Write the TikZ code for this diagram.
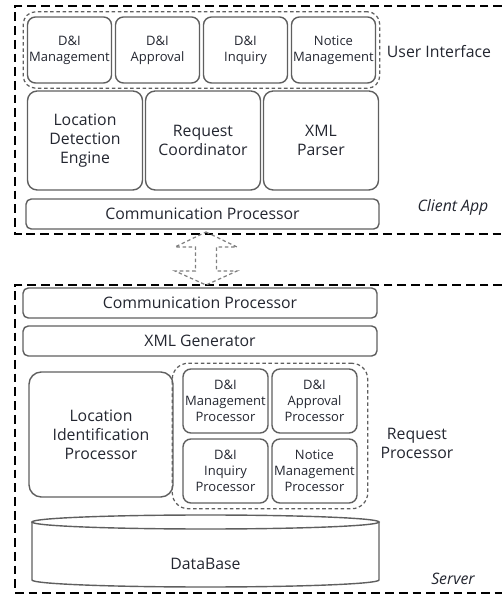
\documentclass[tikz,border=0pt]{standalone}
\usepackage{fontspec}
\setmainfont{Open Sans}
\usetikzlibrary{fit}

\definecolor{edgegray}{RGB}{95,95,95}
\definecolor{txt}{RGB}{35,38,48}

\begin{document}
\begin{tikzpicture}[
  font=\fontsize{9}{10.8}\selectfont, text=txt,
  box/.style={draw=edgegray, line width=0.8pt, rounded corners=5.5pt, align=center, inner sep=0pt},
  smallbox/.style={box, rounded corners=4.5pt, font=\fontsize{7.4}{9}\selectfont},
  barbox/.style={box, rounded corners=3pt},
  group/.style={draw=edgegray, line width=0.7pt, dash pattern=on 2pt off 1.5pt, rounded corners=7pt, inner sep=0pt},
  frame/.style={black, line width=1.1pt, dash pattern=on 5pt off 2.8pt},
  link/.style={draw=gray, line width=0.7pt, dash pattern=on 2pt off 1.5pt},
  dbline/.style={draw=edgegray, line width=0.8pt}
]
\useasboundingbox (0,0) rectangle (10.04,11.94);

\draw[frame] (10.04,11.82) -- (0.30,11.82) -- (0.30,7.26) -- (10.04,7.26);
\draw[frame] (10.04,6.24) -- (0.30,6.24) -- (0.30,0.08) -- (10.04,0.08);

\path (1.39,10.94) node (uiMgmt) [smallbox, minimum width=1.68cm, minimum height=1.32cm] {D\&I\\Management};
\path (3.15,10.94) node (uiAppr) [smallbox, minimum width=1.68cm, minimum height=1.32cm] {D\&I\\Approval};
\path (4.91,10.94) node (uiInq) [smallbox, minimum width=1.68cm, minimum height=1.32cm] {D\&I\\Inquiry};
\path (6.67,10.94) node (uiNotice) [smallbox, minimum width=1.68cm, minimum height=1.32cm] {Notice\\Management};
\node (ui) [group, fit=(uiMgmt)(uiNotice), inner xsep=0.07cm, inner ysep=0.09cm] {};
\path (8.78,10.90) node (uiLabel) {User Interface};

\path (1.70,9.13) node (detect) [box, minimum width=2.30cm, minimum height=1.98cm] {Location\\Detection\\Engine};
\path (4.06,9.13) node (coord) [box, minimum width=2.30cm, minimum height=1.98cm] {Request\\Coordinator};
\path (6.42,9.13) node (parser) [box, minimum width=2.30cm, minimum height=1.98cm] {XML\\Parser};

\path (4.05,7.66) node (clientComm) [barbox, minimum width=7.06cm, minimum height=0.60cm] {Communication Processor};
\path (9.06,7.80) node (clientLabel) [font=\fontsize{9}{10.8}\selectfont\itshape] {Client App};

\draw[link] (4.12,7.30) -- (4.74,7.00) -- (4.33,7.00) -- (4.33,6.52) -- (4.74,6.52) -- (4.12,6.24)
  -- (3.50,6.52) -- (3.91,6.52) -- (3.91,7.00) -- (3.50,7.00) -- cycle;

\path (4.00,5.88) node (serverComm) [barbox, minimum width=7.08cm, minimum height=0.60cm] {Communication Processor};
\path (4.00,5.12) node (xmlGen) [barbox, minimum width=7.08cm, minimum height=0.60cm] {XML Generator};

\path (2.02,3.25) node (locId) [box, rounded corners=7pt, minimum width=2.88cm, minimum height=2.50cm] {Location\\Identification\\Processor};

\path (4.51,3.92) node (rpMgmt) [smallbox, minimum width=1.70cm, minimum height=1.28cm] {D\&I\\Management\\Processor};
\path (6.29,3.92) node (rpAppr) [smallbox, minimum width=1.70cm, minimum height=1.28cm] {D\&I\\Approval\\Processor};
\path (4.51,2.52) node (rpInq) [smallbox, minimum width=1.70cm, minimum height=1.28cm] {D\&I\\Inquiry\\Processor};
\path (6.29,2.52) node (rpNotice) [smallbox, minimum width=1.70cm, minimum height=1.28cm] {Notice\\Management\\Processor};
\node (rp) [group, rounded corners=9pt, fit=(rpMgmt)(rpNotice), inner xsep=0.20cm, inner ysep=0.10cm] {};
\path (8.34,3.08) node (rpLabel) [align=center] {Request\\Processor};

\draw[dbline] (0.64,1.50) -- (0.64,0.34) arc[start angle=180, end angle=360, x radius=3.47, y radius=0.14] -- (7.58,1.50);
\draw[dbline] (4.11,1.50) ellipse[x radius=3.47, y radius=0.14];
\path (4.11,0.66) node (db) {DataBase};
\path (9.06,0.36) node (serverLabel) [font=\fontsize{9}{10.8}\selectfont\itshape] {Server};
\end{tikzpicture}
\end{document}
